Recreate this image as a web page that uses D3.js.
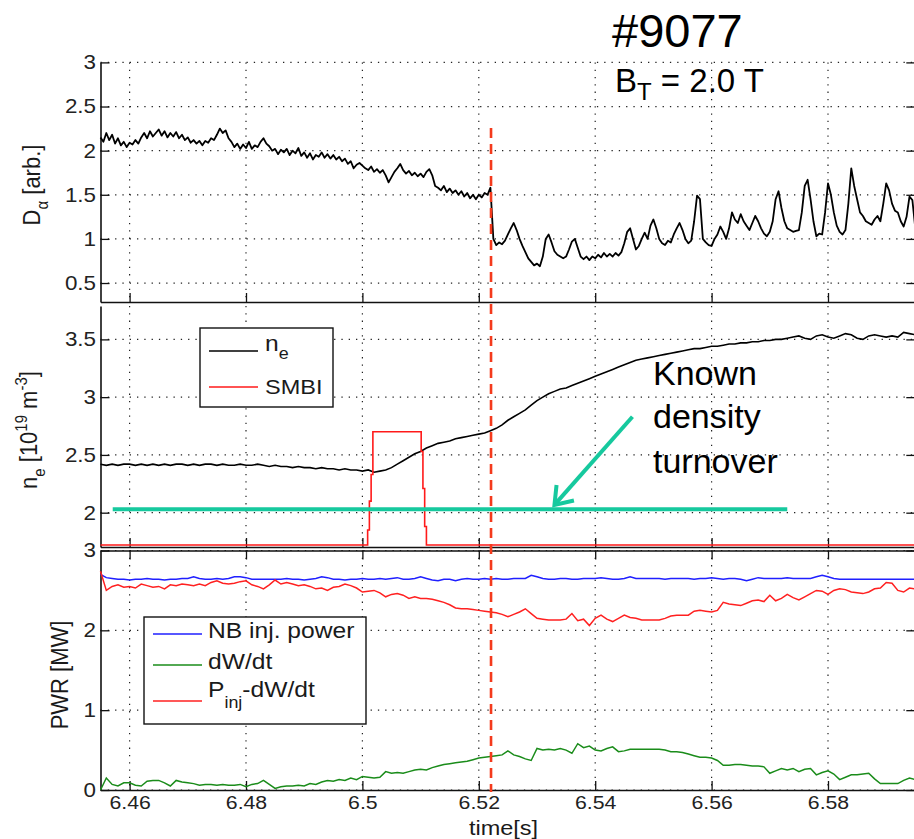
<!DOCTYPE html>
<html><head><meta charset="utf-8">
<script src="https://cdn.jsdelivr.net/npm/d3@7"></script>
<style>body{margin:0;background:#fff;} svg{display:block;}</style>
</head><body><svg id="c" width="914" height="839"></svg>
<script>
// ---------------- DATA ----------------
const xTicks = [6.46, 6.48, 6.50, 6.52, 6.54, 6.56, 6.58];
const xTickLabels = ["6.46", "6.48", "6.5", "6.52", "6.54", "6.56", "6.58"];
const daTicks = [0.5, 1, 1.5, 2, 2.5, 3];
const daTickLabels = ["0.5", "1", "1.5", "2", "2.5", "3"];
const neTicks = [2, 2.5, 3, 3.5];
const neTickLabels = ["2", "2.5", "3", "3.5"];
const pwrTicks = [0, 1, 2, 3];
const pwrTickLabels = ["0", "1", "2", "3"];

// D-alpha, sampled every 0.5 ms from 6.455 s
const daStart = 6.455, daStep = 0.0005;
const dAlpha = [
 2.15,2.10,2.20,2.12,2.18,2.08,2.14,2.06,2.10,2.04,2.09,2.07,2.12,2.08,2.15,2.20,2.14,2.22,2.16,2.20,
 2.24,2.17,2.22,2.15,2.20,2.16,2.21,2.14,2.18,2.12,2.15,2.09,2.12,2.08,2.11,2.06,2.11,2.09,2.14,2.12,
 2.18,2.25,2.20,2.23,2.14,2.10,2.04,2.08,2.02,2.07,2.03,2.10,2.02,2.06,2.04,2.10,2.14,2.08,2.05,2.00,
 2.02,1.96,2.01,1.98,2.02,1.95,2.00,1.97,2.03,1.94,1.98,1.92,1.97,1.90,1.95,1.93,1.98,1.92,1.96,1.91,
 1.95,1.90,1.93,1.88,1.91,1.85,1.88,1.80,1.84,1.86,1.83,1.80,1.78,1.82,1.76,1.79,1.75,1.78,1.72,1.64,
 1.70,1.76,1.80,1.85,1.78,1.74,1.77,1.72,1.75,1.71,1.74,1.70,1.76,1.79,1.72,1.60,1.58,1.55,1.60,1.53,
 1.57,1.52,1.55,1.50,1.54,1.48,1.52,1.46,1.50,1.45,1.50,1.47,1.52,1.50,1.58,1.00,0.93,0.96,0.94,0.98,
 1.05,1.12,1.18,1.10,1.00,0.92,0.85,0.78,0.74,0.70,0.72,0.69,0.80,1.00,1.05,0.96,0.86,0.82,0.80,0.78,
 0.80,0.88,0.97,1.00,0.90,0.80,0.77,0.80,0.76,0.80,0.78,0.82,0.79,0.84,0.80,0.83,0.80,0.84,0.81,0.85,
 0.95,1.08,1.12,1.00,0.88,0.92,1.00,1.07,1.00,1.15,1.22,1.12,1.00,0.95,0.93,0.98,0.96,1.05,1.12,1.18,
 1.10,1.00,0.95,0.98,1.20,1.49,1.45,1.00,0.96,0.93,0.92,1.00,1.05,1.14,1.08,1.00,1.12,1.30,1.22,1.18,
 1.28,1.20,1.15,1.10,1.18,1.26,1.20,1.12,1.06,1.03,1.08,1.20,1.45,1.54,1.35,1.20,1.12,1.10,1.08,1.09,
 1.10,1.30,1.60,1.67,1.45,1.20,1.03,1.06,1.05,1.30,1.63,1.50,1.30,1.15,1.08,1.05,1.10,1.40,1.80,1.60,
 1.45,1.30,1.26,1.20,1.18,1.16,1.22,1.26,1.20,1.40,1.63,1.55,1.40,1.32,1.30,1.20,1.14,1.25,1.48,1.44,
 1.12
];

// line-averaged density, every 1 ms from 6.455 s
const neStart = 6.455, neStep = 0.001;
const ne = [
 2.42,2.41,2.42,2.41,2.42,2.42,2.41,2.42,2.41,2.42,
 2.41,2.42,2.41,2.42,2.42,2.41,2.42,2.41,2.42,2.42,
 2.41,2.42,2.41,2.41,2.42,2.41,2.41,2.42,2.41,2.40,
 2.41,2.40,2.40,2.39,2.40,2.39,2.39,2.38,2.39,2.38,
 2.38,2.37,2.38,2.37,2.37,2.36,2.37,2.35,2.36,2.37,
 2.39,2.42,2.45,2.48,2.51,2.53,2.56,2.58,2.60,2.61,
 2.62,2.64,2.65,2.66,2.67,2.68,2.69,2.71,2.73,2.76,
 2.80,2.83,2.86,2.89,2.93,2.97,3.00,3.03,3.05,3.07,
 3.08,3.10,3.12,3.14,3.16,3.18,3.20,3.22,3.24,3.26,
 3.28,3.30,3.32,3.33,3.34,3.35,3.36,3.37,3.38,3.39,
 3.40,3.41,3.42,3.42,3.43,3.44,3.44,3.45,3.46,3.46,
 3.47,3.47,3.48,3.48,3.49,3.49,3.50,3.50,3.51,3.52,
 3.53,3.51,3.50,3.53,3.54,3.52,3.51,3.53,3.55,3.54,
 3.51,3.50,3.53,3.54,3.53,3.52,3.53,3.52,3.56,3.55,3.54
];

// SMBI pulse (drawn on the density axis)
const smbiT = [6.455, 6.5009, 6.5012, 6.5015, 6.5018, 6.5101, 6.5104, 6.5107, 6.5110, 6.595];
const smbiV = [1.72, 1.85, 2.10, 2.33, 2.70, 2.53, 2.21, 1.88, 1.72, 1.72];

// power traces, every 1 ms from 6.455 s
const pwrStart = 6.455, pwrStep = 0.001;
const nbPower = [
 2.70,2.66,2.65,2.64,2.64,2.63,2.64,2.64,2.65,2.64,
 2.64,2.63,2.64,2.64,2.65,2.65,2.67,2.65,2.64,2.64,
 2.65,2.64,2.65,2.67,2.67,2.66,2.64,2.64,2.64,2.64,
 2.64,2.64,2.65,2.64,2.64,2.63,2.64,2.65,2.67,2.66,
 2.64,2.64,2.63,2.64,2.64,2.65,2.64,2.64,2.65,2.64,
 2.65,2.66,2.64,2.64,2.65,2.67,2.65,2.63,2.62,2.64,
 2.64,2.62,2.64,2.65,2.64,2.64,2.65,2.64,2.65,2.64,
 2.64,2.65,2.65,2.65,2.69,2.67,2.65,2.64,2.64,2.65,
 2.65,2.64,2.64,2.65,2.65,2.65,2.66,2.65,2.64,2.64,
 2.65,2.67,2.65,2.65,2.65,2.65,2.65,2.64,2.65,2.65,
 2.65,2.65,2.64,2.65,2.65,2.66,2.65,2.64,2.65,2.65,
 2.64,2.62,2.64,2.66,2.65,2.65,2.65,2.65,2.66,2.65,
 2.65,2.65,2.65,2.67,2.69,2.67,2.65,2.64,2.64,2.64,
 2.64,2.64,2.64,2.64,2.64,2.64,2.64,2.64,2.64,2.64,2.64
];
const dWdt = [
 0.00,0.15,0.07,0.05,0.09,0.09,0.06,0.05,0.11,0.12,
 0.12,0.09,0.05,0.12,0.10,0.09,0.08,0.06,0.07,0.07,
 0.06,0.07,0.06,0.06,0.07,0.04,0.07,0.08,0.12,0.07,
 0.02,0.04,0.05,0.05,0.06,0.05,0.08,0.07,0.10,0.12,
 0.11,0.13,0.12,0.15,0.13,0.17,0.16,0.15,0.16,0.23,
 0.21,0.22,0.21,0.23,0.25,0.26,0.25,0.28,0.30,0.32,
 0.33,0.34,0.35,0.36,0.38,0.40,0.41,0.42,0.43,0.44,
 0.49,0.44,0.42,0.39,0.37,0.52,0.50,0.51,0.50,0.52,
 0.50,0.46,0.58,0.53,0.55,0.50,0.49,0.52,0.54,0.48,
 0.49,0.51,0.51,0.51,0.51,0.51,0.51,0.50,0.48,0.48,
 0.47,0.45,0.43,0.41,0.41,0.40,0.37,0.31,0.31,0.32,
 0.32,0.31,0.30,0.30,0.29,0.21,0.24,0.27,0.25,0.27,
 0.23,0.26,0.27,0.19,0.22,0.24,0.20,0.13,0.16,0.19,
 0.19,0.20,0.21,0.14,0.08,0.08,0.08,0.08,0.12,0.15,0.13
];
const pInjMinusdW = [
 2.74,2.50,2.55,2.57,2.54,2.55,2.53,2.58,2.56,2.54,
 2.55,2.52,2.57,2.56,2.58,2.57,2.56,2.58,2.56,2.60,
 2.62,2.59,2.58,2.59,2.61,2.62,2.57,2.55,2.52,2.57,
 2.63,2.58,2.60,2.58,2.56,2.57,2.55,2.52,2.53,2.50,
 2.54,2.55,2.58,2.56,2.53,2.48,2.49,2.50,2.47,2.42,
 2.45,2.46,2.44,2.40,2.42,2.40,2.40,2.39,2.37,2.35,
 2.32,2.28,2.27,2.27,2.26,2.25,2.24,2.23,2.22,2.20,
 2.17,2.20,2.23,2.27,2.21,2.15,2.14,2.13,2.13,2.13,
 2.14,2.21,2.12,2.14,2.06,2.15,2.19,2.14,2.11,2.15,
 2.19,2.16,2.15,2.13,2.13,2.13,2.13,2.15,2.18,2.19,
 2.19,2.19,2.24,2.25,2.24,2.23,2.25,2.35,2.33,2.32,
 2.31,2.34,2.37,2.38,2.36,2.44,2.37,2.40,2.45,2.41,
 2.38,2.42,2.46,2.50,2.49,2.45,2.50,2.52,2.51,2.48,
 2.47,2.46,2.48,2.52,2.53,2.60,2.59,2.50,2.48,2.53,2.52
];

const lhTime = 6.5221;                 // red dashed marker
const turnoverLevel = 2.03;            // known density turnover
const turnoverRange = [6.4571, 6.5730];
const arrowFrom = [6.5464, 2.83], arrowTo = [6.5330, 2.067];

// ---------------- DRAWING ----------------
const FONT = '"Liberation Sans", Arial, Helvetica, sans-serif';
const SX = 1.12; // MATLAB text looks horizontally stretched
const svg = d3.select("#c");

const x = d3.scaleLinear().domain([6.455, 6.595]).range([100.5, 915.3]);
const X0 = x.range()[0], X1 = x.range()[1];
const yDa = d3.scaleLinear().domain([0.285, 3]).range([302, 62.4]);
const yNe = d3.scaleLinear().domain([1.703, 3.789]).range([547, 306]);
const yPw = d3.scaleLinear().domain([0, 3]).range([790, 550.5]);

function grid(yScale, yT, top, bottom) {
  const g = svg.append("g").attr("stroke", "#222").attr("stroke-width", 1.2)
    .attr("stroke-dasharray", "1.3,6").attr("fill", "none");
  g.selectAll("line.v").data(xTicks).join("line")
    .attr("x1", d => x(d)).attr("x2", d => x(d)).attr("y1", top).attr("y2", bottom);
  g.selectAll("line.h").data(yT).join("line")
    .attr("x1", X0).attr("x2", X1).attr("y1", d => yScale(d)).attr("y2", d => yScale(d));
}
grid(yDa, daTicks, 62.4, 302);
grid(yNe, neTicks, 306, 547);
grid(yPw, pwrTicks, 550.5, 790);

function styleAxis(g) {
  g.attr("font-family", FONT).attr("font-size", 20);
  g.select(".domain").attr("stroke", "#111").attr("stroke-width", 1.6);
  g.selectAll(".tick line").attr("stroke", "#111").attr("stroke-width", 1.3);
  g.selectAll(".tick text").attr("fill", "#222").attr("transform", `scale(${SX},1)`);
}
function leftAxis(yScale, ticks, labels) {
  svg.append("g").attr("transform", `translate(${X0},0)`)
    .call(d3.axisLeft(yScale).tickValues(ticks).tickFormat((d, i) => labels[i])
      .tickSize(-9).tickSizeOuter(0).tickPadding(4)).call(styleAxis);
  svg.append("g").attr("transform", `translate(${X1},0)`)
    .call(d3.axisRight(yScale).tickValues(ticks).tickFormat("")
      .tickSize(-9).tickSizeOuter(0)).call(styleAxis);
}
function bottomAxis(yPos, withLabels) {
  const g = svg.append("g").attr("transform", `translate(0,${yPos})`)
    .call(d3.axisBottom(x).tickValues(xTicks)
      .tickFormat((d, i) => withLabels ? xTickLabels[i] : "")
      .tickSize(-9).tickSizeOuter(0).tickPadding(6)).call(styleAxis);
  g.attr("font-size", 19);
}
function topAxis(yPos) {
  svg.append("g").attr("transform", `translate(0,${yPos})`)
    .call(d3.axisTop(x).tickValues(xTicks).tickFormat("")
      .tickSize(-9).tickSizeOuter(0)).call(styleAxis);
}
leftAxis(yDa, daTicks, daTickLabels);
bottomAxis(302, false);
leftAxis(yNe, neTicks, neTickLabels);
bottomAxis(547, false);
leftAxis(yPw, pwrTicks, pwrTickLabels);
topAxis(550.5);
bottomAxis(790, true);

// traces
const lineIdx = (start, step, yS) => d3.line().x((d, i) => x(start + i * step)).y(d => yS(d));
svg.append("path").datum(dAlpha).attr("fill", "none").attr("stroke", "#000")
  .attr("stroke-width", 1.8).attr("stroke-linejoin", "round")
  .attr("d", lineIdx(daStart, daStep, yDa));

svg.append("path").datum(ne).attr("fill", "none").attr("stroke", "#000")
  .attr("stroke-width", 1.6).attr("d", lineIdx(neStart, neStep, yNe));

const smbiPts = smbiT.map((t, i) => [t, smbiV[i]]);
svg.append("path").datum(smbiPts).attr("fill", "none").attr("stroke", "#ff1a1a")
  .attr("stroke-width", 1.6)
  .attr("d", d3.line().curve(d3.curveStepAfter).x(d => x(d[0])).y(d => yNe(d[1])));

svg.append("path").datum(nbPower).attr("fill", "none").attr("stroke", "#1f1fff")
  .attr("stroke-width", 1.5).attr("d", lineIdx(pwrStart, pwrStep, yPw));
svg.append("path").datum(dWdt).attr("fill", "none").attr("stroke", "#1a8c1a")
  .attr("stroke-width", 1.5).attr("d", lineIdx(pwrStart, pwrStep, yPw));
svg.append("path").datum(pInjMinusdW).attr("fill", "none").attr("stroke", "#ff2020")
  .attr("stroke-width", 1.5).attr("d", lineIdx(pwrStart, pwrStep, yPw));

// helper for stretched text
function mtext(parent, px, py, size, anchor, rot) {
  const t = parent.append("text").attr("font-family", FONT).attr("font-size", size)
    .attr("fill", "#1a1a1a").attr("text-anchor", anchor || "start")
    .attr("transform", `translate(${px},${py}) scale(${SX},1)` + (rot ? " rotate(-90)" : ""));
  return t;
}

// legend (density panel)
const lg1 = svg.append("g");
lg1.append("rect").attr("x", 200).attr("y", 328).attr("width", 133).attr("height", 79)
  .attr("fill", "#fff").attr("stroke", "#111").attr("stroke-width", 1.4);
lg1.append("line").attr("x1", 209).attr("x2", 258).attr("y1", 351).attr("y2", 351)
  .attr("stroke", "#000").attr("stroke-width", 1.5);
lg1.append("line").attr("x1", 209).attr("x2", 258).attr("y1", 387).attr("y2", 387)
  .attr("stroke", "#ff1a1a").attr("stroke-width", 1.5);
{
  const t = mtext(lg1, 265, 351, 22);
  t.append("tspan").text("n");
  t.append("tspan").attr("font-size", 16).attr("dy", 8).text("e");
  mtext(lg1, 265, 394, 21).text("SMBI");
}

// legend (power panel)
const lg2 = svg.append("g");
lg2.append("rect").attr("x", 144).attr("y", 617).attr("width", 222).attr("height", 107)
  .attr("fill", "#fff").attr("stroke", "#111").attr("stroke-width", 1.4);
[["#1f1fff", 634], ["#1a8c1a", 665], ["#ff2020", 701]].forEach(([c, yy]) => {
  lg2.append("line").attr("x1", 153).attr("x2", 202).attr("y1", yy).attr("y2", yy)
    .attr("stroke", c).attr("stroke-width", 1.5);
});
mtext(lg2, 208, 638, 22).text("NB inj. power");
mtext(lg2, 208, 669, 22).text("dW/dt");
{
  const t = mtext(lg2, 208, 697, 22);
  t.append("tspan").text("P");
  t.append("tspan").attr("font-size", 16).attr("dy", 11).text("inj");
  t.append("tspan").attr("dy", -11).text("-dW/dt");
}

// axis labels
{
  const t = mtext(svg, 40, 185, 22, "middle", true);
  t.append("tspan").text("D");
  t.append("tspan").attr("font-size", 15).attr("dy", 7).text("α");
  t.append("tspan").attr("dy", -7).text(" [arb.]");
}
{
  const t = mtext(svg, 37, 430, 22, "middle", true);
  t.append("tspan").text("n");
  t.append("tspan").attr("font-size", 15).attr("dy", 7).text("e");
  t.append("tspan").attr("dy", -7).text(" [10");
  t.append("tspan").attr("font-size", 15).attr("dy", -9).text("19");
  t.append("tspan").attr("dy", 9).text(" m");
  t.append("tspan").attr("font-size", 15).attr("dy", -9).text("-3");
  t.append("tspan").attr("dy", 9).text("]");
}
mtext(svg, 68, 675, 22, "middle", true).text("PWR [MW]");
mtext(svg, 503.5, 835, 21, "middle").text("time[s]");

// known density turnover line + arrow
const teal = "#16c99e";
svg.append("line").attr("x1", x(turnoverRange[0])).attr("x2", x(turnoverRange[1]))
  .attr("y1", yNe(turnoverLevel)).attr("y2", yNe(turnoverLevel))
  .attr("stroke", teal).attr("stroke-width", 4);
{
  const x1 = x(arrowFrom[0]), y1 = yNe(arrowFrom[1]);
  const x2 = x(arrowTo[0]), y2 = yNe(arrowTo[1]);
  const ang = Math.atan2(y1 - y2, x1 - x2), L = 20, a = 0.62;
  const p1 = [x2 + L * Math.cos(ang + a), y2 + L * Math.sin(ang + a)];
  const p2 = [x2 + L * Math.cos(ang - a), y2 + L * Math.sin(ang - a)];
  const ag = svg.append("g").attr("stroke", teal).attr("stroke-width", 4)
    .attr("stroke-linecap", "butt").attr("fill", "none");
  ag.append("line").attr("x1", x1).attr("y1", y1).attr("x2", x2).attr("y2", y2);
  ag.append("path").attr("d", `M${p1[0]},${p1[1]}L${x2},${y2}L${p2[0]},${p2[1]}`)
    .attr("stroke-linejoin", "miter");
}
const ann = svg.append("text").attr("font-family", FONT).attr("font-size", 34).attr("fill", "#000");
[["Known", 385], ["density", 428], ["turnover", 473]].forEach(([s, yy]) => {
  ann.append("tspan").attr("x", 653).attr("y", yy).text(s);
});

// red dashed marker
svg.append("line").attr("x1", x(lhTime)).attr("x2", x(lhTime)).attr("y1", 128).attr("y2", 792)
  .attr("stroke", "#f43a1c").attr("stroke-width", 2.6).attr("stroke-dasharray", "10,6");

// title
svg.append("text").attr("x", 612).attr("y", 47).attr("font-family", FONT)
  .attr("font-size", 47).attr("fill", "#000").text("#9077");
{
  const t = svg.append("text").attr("x", 615).attr("y", 92).attr("font-family", FONT)
    .attr("font-size", 33).attr("fill", "#000");
  t.append("tspan").text("B");
  t.append("tspan").attr("font-size", 24).attr("dy", 8).text("T");
  t.append("tspan").attr("dy", -8).text(" = 2.0 T");
}
</script></body></html>
